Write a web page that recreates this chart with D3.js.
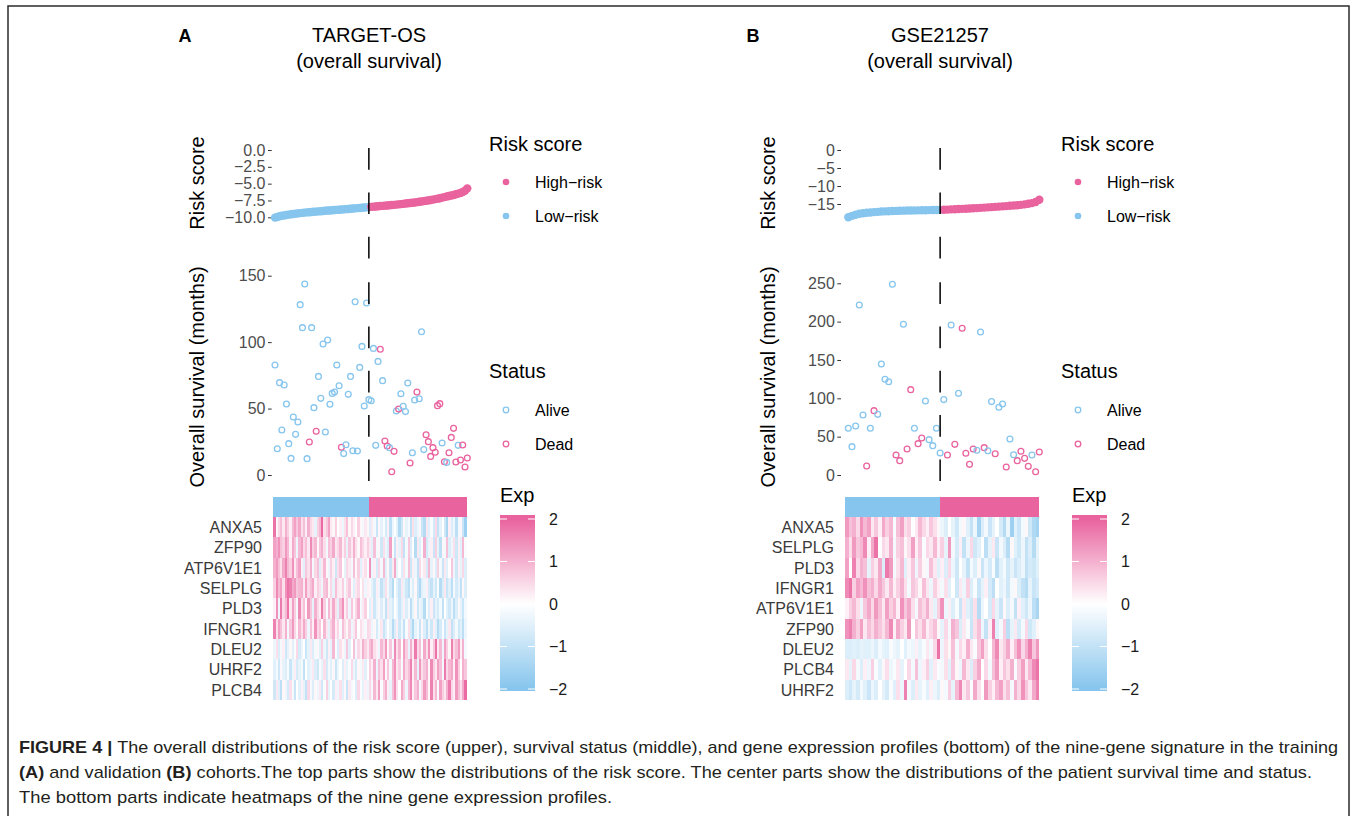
<!DOCTYPE html>
<html><head><meta charset="utf-8">
<script src="https://cdn.jsdelivr.net/npm/d3@7"></script>
<style>
body{margin:0;background:#fff}
svg{display:block}
text{font-family:"Liberation Sans",Arial,Helvetica,sans-serif}
</style>
</head><body>
<svg id="fig" width="1357" height="816"></svg>
<script>
// ---------------- DATA ----------------
const riskA = [-10.05,-9.95,-9.85,-9.78,-9.72,-9.66,-9.6,-9.55,-9.5,-9.46,-9.42,-9.38,-9.34,-9.3,-9.27,-9.24,-9.21,-9.18,-9.15,-9.12,-9.09,-9.06,-9.03,-9.0,-8.98,-8.95,-8.92,-8.9,-8.87,-8.85,-8.82,-8.79,-8.76,-8.73,-8.7,-8.67,-8.64,-8.61,-8.58,-8.55,-8.52,-8.49,
-8.45,-8.42,-8.39,-8.36,-8.33,-8.3,-8.27,-8.24,-8.21,-8.18,-8.15,-8.12,-8.08,-8.04,-8.0,-7.96,-7.92,-7.88,-7.84,-7.8,-7.75,-7.7,-7.65,-7.6,-7.55,-7.49,-7.43,-7.37,-7.3,-7.23,-7.16,-7.08,-7.0,-6.92,-6.84,-6.76,-6.68,-6.58,-6.48,-6.38,-6.25,-6.05,-5.7];
const survA = [82.8,19.8,69.5,33.9,67.7,53.4,23.6,12.5,43.6,30.6,39.9,128.2,110.9,143.7,12.3,24.8,110.9,50.7,32.9,74.2,57.7,98.6,32.4,101.6,53.2,61.4,62.4,82.8,67.2,20.8,16.1,22.8,60.7,74.2,18.3,130.4,18.1,81.0,96.8,51.9,129.4,56.7,55.9,95.3,22.3,85.5,94.6,71.0,25.6,21.8,20.6,2.5,17.8,48.2,49.7,61.2,51.7,47.7,69.2,9.0,16.8,56.4,62.4,57.4,107.8,19.1,30.3,25.1,14.0,20.6,17.1,52.2,53.7,24.1,10.0,9.5,16.8,28.3,35.1,9.8,22.3,11.3,22.6,6.0,12.8];
const statusA = [0,0,0,0,0,0,0,0,0,0, 0,0,0,0,0,1,0,0,1,0, 0,0,0,0,0,0,0,0,0,1, 0,0,0,0,0,0,0,0,0,0, 0,0,0,0,0,0,1,0,1,1, 0,1,1,0,1,0,0,0,0,1, 0,0,1,0,0,0,1,1,1,1, 1,1,1,0,1,0,1,1,1,1, 0,1,1,1,1];
const lowCountA = 42;
const genesA = ["ANXA5","ZFP90","ATP6V1E1","SELPLG","PLD3","IFNGR1","DLEU2","UHRF2","PLCB4"];
const ANXA5_A = [1.8,0.1,0.5,0.8,0.3,1.0,0.6,0.2,0.9,1.2,0.7,1.1,0.4,0.8,0.2,1.0,0.5,0.3,-0.4,0.6,0.9,1.9,0.4,0.7,1.2,0.3,0.1,0.6,0.0,0.2,-0.3,0.4,0.8,0.1,0.5,0.2,0.0,0.6,0.1,-0.2,0.3,0.1,
-0.6,0.3,-0.2,-0.9,0.1,-0.4,-0.1,-0.7,0.2,-1.1,-0.3,0.0,-0.5,-1.3,-0.8,0.1,-0.4,-0.2,-1.0,0.4,-0.6,-0.3,0.1,-0.9,-1.2,0.3,-0.5,-0.1,-0.7,0.5,-1.0,-0.4,0.0,-0.8,-1.4,0.2,-0.6,-0.3,-1.1,-0.2,0.1,-0.9,-1.6];
const ZFP90_A = [1.2,1.0,1.4,0.8,0.6,1.3,0.9,0.2,1.1,0.7,-0.3,0.9,1.2,0.5,0.8,0.3,1.5,0.6,0.9,0.1,0.7,1.0,0.4,-0.2,0.8,0.6,1.1,0.3,0.5,0.9,0.2,0.6,-0.4,0.7,0.3,1.0,0.4,0.1,0.8,0.5,0.2,0.6,
0.3,-0.5,0.8,-0.2,0.1,-0.8,0.4,-0.3,-0.6,1.2,-0.1,-0.9,0.2,-0.4,0.5,-1.0,-0.2,0.7,-0.6,0.0,-1.2,0.3,-0.5,-0.1,1.0,-0.7,-0.3,0.2,-0.9,0.6,-0.4,-1.1,0.1,-0.2,0.8,-0.6,-0.3,0.4,-0.8,0.2,-0.5,0.9,-0.1];
const ATP6V1E1_A = [1.0,1.3,0.8,0.4,1.1,1.6,0.9,0.6,1.4,0.3,0.8,1.2,0.2,-0.5,0.7,0.4,1.0,-0.2,0.5,0.8,-0.6,0.3,0.9,0.1,-0.3,0.6,0.2,-0.8,0.4,0.7,0.0,-0.4,0.5,0.3,-0.2,0.8,0.1,0.6,-0.5,0.2,0.4,-0.1,
1.4,-0.3,0.2,-0.7,0.5,-0.2,0.9,-0.5,0.1,-0.9,0.3,1.1,-0.4,0.0,-0.6,0.4,-0.2,0.8,-0.8,0.2,-0.3,-1.0,0.5,-0.1,0.3,-0.7,0.9,-0.4,0.1,-0.6,0.6,-0.2,-0.9,0.3,-0.5,0.0,0.7,-0.3,-0.8,0.2,-0.4,0.5,-0.6];
const SELPLG_A = [0.6,1.5,0.9,1.2,0.4,1.4,1.8,1.6,1.1,1.3,0.7,0.9,1.0,0.3,1.2,0.5,0.8,1.1,0.2,0.6,0.4,-0.3,0.7,0.9,0.1,0.5,-0.4,0.8,0.3,0.2,0.6,-0.2,0.4,0.7,0.1,-0.5,0.3,0.5,0.0,0.4,-0.3,0.2,
0.1,-0.4,-0.8,0.2,-0.3,-1.0,-0.6,0.4,-0.2,-0.7,-1.2,0.0,-0.5,-0.9,0.3,-0.4,-0.8,-1.1,-0.2,-0.6,0.1,-0.9,-1.3,-0.5,-0.3,0.2,-0.7,-1.0,-0.4,-0.8,-0.1,-1.2,-0.6,0.3,-0.9,-0.5,-1.1,-0.2,-0.7,-0.4,-1.0,0.1,-0.6];
const PLD3_A = [0.2,1.4,-0.3,1.7,0.5,0.9,1.8,0.3,1.2,0.6,-0.2,1.5,0.4,0.8,0.1,1.3,0.7,-0.4,1.0,0.5,0.2,1.6,0.6,-0.1,0.9,0.3,1.1,0.4,-0.5,0.8,1.4,0.2,0.6,-0.3,0.7,0.1,0.5,1.0,-0.2,0.3,0.6,0.0,
-0.5,0.2,-0.8,-0.3,0.1,-0.6,-0.2,-1.0,0.3,-0.4,-0.7,0.0,-0.3,-0.9,-0.5,0.2,-0.6,-0.2,-1.1,-0.4,0.1,-0.8,-0.3,-0.5,-1.2,-0.1,-0.6,0.2,-0.9,-0.4,-0.7,-0.2,-1.0,0.0,-0.5,-0.8,-0.3,-1.1,-0.6,0.1,-0.4,-0.9,-0.2];
const IFNGR1_A = [1.6,0.4,1.2,0.8,0.3,1.0,-0.2,0.7,1.3,0.5,0.1,0.9,0.4,1.1,0.6,-0.3,0.8,0.2,1.4,0.5,0.7,0.0,0.9,0.3,-0.4,0.6,1.0,0.2,0.5,-0.1,0.8,0.4,0.1,0.6,-0.3,0.3,0.7,0.0,0.4,0.2,-0.2,0.5,
0.4,-0.3,0.1,-0.7,-0.2,0.3,-0.9,-0.5,0.0,-0.4,-1.2,-0.6,0.2,-0.8,-0.3,-1.0,-0.1,0.4,-0.7,-1.3,-0.4,-0.2,-0.9,0.1,-0.6,-1.1,-0.3,-0.8,0.2,-0.5,-1.2,-0.7,-0.1,-0.9,-0.4,0.3,-1.0,-0.6,-0.2,-0.8,-0.5,-1.1,-0.3];
const DLEU2_A = [-0.3,0.4,-0.6,-0.2,0.2,-0.8,-0.4,0.1,-0.5,-0.1,0.5,-0.7,-0.3,0.0,-0.9,-0.4,0.3,-0.6,-0.2,0.1,-0.5,0.6,-0.3,-0.8,0.2,-0.4,0.9,-0.1,-0.6,0.4,0.1,-0.3,0.7,-0.5,0.0,0.8,-0.2,0.5,0.2,1.0,0.6,0.3,
0.8,1.1,0.4,0.2,-0.3,0.9,0.5,1.3,0.1,0.7,-0.2,1.5,0.4,0.9,0.0,1.2,0.6,-0.4,1.0,0.3,1.7,0.5,0.8,-0.1,1.1,0.4,1.4,0.2,0.7,1.8,0.3,0.9,-0.3,1.2,0.6,0.1,1.6,0.5,0.8,1.3,0.2,1.0,-0.2];
const UHRF2_A = [-0.5,-0.2,-0.8,0.1,-0.4,-0.6,-0.1,-0.9,-0.3,0.2,-0.7,-0.4,-0.2,-1.0,0.0,-0.5,-0.3,0.3,-0.6,-0.8,-0.1,-0.4,0.4,-0.7,-0.2,-0.5,0.1,-0.9,-0.3,0.0,-0.6,0.2,-0.4,-0.1,0.5,-0.3,-0.7,0.1,-0.2,0.3,-0.5,0.0,
0.6,0.2,1.0,-0.3,0.8,0.4,1.2,0.1,0.7,-0.2,0.9,1.4,0.3,0.6,-0.1,1.1,0.5,0.8,1.6,0.2,0.9,-0.4,1.3,0.4,0.7,1.0,0.1,1.5,0.6,0.3,1.2,0.8,-0.2,1.7,0.5,0.9,1.1,0.2,1.4,0.6,0.0,1.0,0.7];
const PLCB4_A = [-0.8,0.3,-0.5,-1.1,0.1,-0.3,-0.7,0.4,-0.2,-0.9,0.0,-0.5,0.2,-0.4,-1.0,0.5,-0.2,-0.6,0.1,-0.3,0.3,-0.8,-0.1,0.6,-0.4,0.0,-0.7,0.2,-0.3,0.4,-0.5,0.1,-0.9,0.3,-0.2,0.0,-0.6,0.5,-0.1,-0.4,0.2,-0.3,
0.5,-0.2,0.9,0.3,1.2,-0.1,0.6,1.0,0.2,-0.4,0.8,1.4,0.4,0.0,1.1,0.6,-0.3,0.9,1.5,0.2,0.7,1.0,-0.2,0.5,1.3,0.8,0.1,1.6,0.4,0.9,-0.1,1.2,0.6,0.3,1.0,1.7,0.5,0.2,1.3,0.8,0.4,1.1,1.9];

const riskB = [-18.7,-18.3,-18.0,-17.7,-17.55,-17.45,-17.35,-17.25,-17.18,-17.1,-17.05,-17.0,-16.96,-16.92,-16.88,-16.85,-16.82,-16.8,-16.78,-16.76,-16.74,-16.72,-16.7,-16.68,-16.66,-16.64,
-16.6,-16.55,-16.5,-16.45,-16.4,-16.35,-16.3,-16.25,-16.2,-16.14,-16.08,-16.0,-15.93,-15.86,-15.79,-15.72,-15.65,-15.58,-15.5,-15.42,-15.33,-15.23,-15.1,-14.95,-14.75,-14.45,-13.8];
const survB = [60.9,37.0,63.9,221.7,78.3,11.7,60.9,83.9,79.1,144.8,124.8,121.7,248.7,26.1,18.7,196.5,33.9,111.3,60.9,40.9,48.3,96.5,46.1,38.3,60.9,28.7,98.3,26.1,195.7,40.0,106.5,191.3,28.3,13.9,33.9,32.2,186.5,35.7,31.7,95.7,27.8,88.3,92.6,10.4,47.0,26.5,18.7,30.9,21.7,11.3,26.1,4.3,30.0];
const statusB = [0,0,0,0,0,1,0,1,0,0, 0,0,0,1,1,0,1,1,0,1, 1,0,0,0,0,0,0,1,0,1, 0,1,1,1,1,0,0,1,0,0, 1,0,0,1,0,0,1,1,1,1, 0,1,1];
const lowCountB = 26;
const genesB = ["ANXA5","SELPLG","PLD3","IFNGR1","ATP6V1E1","ZFP90","DLEU2","PLCB4","UHRF2"];
const ANXA5_B = [1.3,0.8,1.0,0.5,1.4,0.9,1.2,0.3,0.7,0.2,1.1,0.6,0.9,-0.1,0.8,1.2,0.4,0.6,0.0,0.3,0.9,0.5,0.2,0.7,0.4,0.1,
-0.3,-0.6,0.0,-0.4,-0.8,-0.2,0.1,-0.5,-1.0,-0.3,-1.5,-0.6,-0.2,-0.9,-0.4,0.0,-0.7,-1.2,-0.3,-1.6,-0.5,-0.9,-0.2,0.1,-0.8,-1.3,-1.5];
const SELPLG_B = [1.0,0.4,1.3,0.7,0.9,1.5,0.2,1.1,1.8,0.0,0.5,0.3,1.0,-0.2,0.6,0.8,0.1,0.4,1.2,0.2,0.7,-0.1,0.5,0.3,0.9,0.2,
0.6,-0.4,1.3,-0.2,-0.7,0.2,-1.0,-0.3,0.5,-0.8,-0.5,0.0,-1.1,-0.4,0.3,-0.9,-0.2,-0.6,-1.2,0.1,-0.5,-0.8,-0.3,-1.0,-0.6,-1.2,-0.4];
const PLD3_B = [1.2,0.0,1.6,0.5,1.0,0.8,-0.4,0.6,0.3,1.1,-0.6,1.7,1.3,-0.2,0.4,0.9,-0.5,0.2,0.7,-0.3,0.6,0.1,-0.2,0.8,0.3,-0.5,
0.2,-0.6,0.5,-0.3,-0.8,0.0,-0.4,-1.0,-0.2,-0.6,0.1,-0.9,-0.3,-0.7,-0.1,-1.1,-0.5,-0.2,-0.8,-0.4,-0.9,-0.6,-0.3,-1.0,-0.7,-0.8,-0.5];
const IFNGR1_B = [1.5,1.8,0.6,1.2,0.9,1.4,0.8,1.0,0.5,1.1,0.7,0.3,0.9,0.2,0.6,1.0,0.4,-0.2,0.7,0.5,0.1,0.8,0.3,-0.3,0.6,0.2,
-0.2,0.4,-0.5,0.0,-0.8,0.3,-0.3,0.6,-0.6,-0.1,-0.9,-0.4,0.2,-0.7,-1.1,0.0,-0.5,-0.3,-0.8,-0.2,0.1,-0.6,-1.0,-1.2,-0.4,-0.9,-0.7];
const ATP6V1E1_B = [0.2,0.6,0.9,0.4,-0.3,0.7,1.1,0.5,1.3,0.8,0.3,1.2,0.6,0.9,0.2,1.4,0.7,1.1,0.4,-0.2,0.8,0.5,1.0,0.3,-0.4,0.6,
1.4,-0.3,0.2,-0.6,-0.1,-0.9,0.3,-0.5,-0.8,0.4,-1.2,-0.3,0.0,-0.7,0.5,-0.4,-0.9,0.1,-0.6,-0.2,-1.0,0.2,-0.5,-0.8,-0.3,-1.1,-1.4];
const ZFP90_B = [1.4,1.6,1.0,0.6,1.2,0.3,0.8,0.5,1.0,0.7,0.4,0.9,1.5,0.2,1.1,0.6,0.3,1.3,0.0,0.7,0.4,0.9,0.2,0.5,0.8,0.1,
-0.4,0.5,-0.2,1.0,0.7,-0.6,0.3,-0.1,-0.9,0.4,0.8,-0.3,-1.0,0.2,1.6,-0.5,-0.2,0.6,-1.1,-0.4,0.3,-0.7,-0.2,0.5,-0.8,-0.5,0.1];
const DLEU2_B = [-0.6,-0.6,-0.5,-0.6,-0.4,-0.5,-0.5,-0.3,-0.6,-0.2,-0.4,-0.5,-0.1,-0.3,-0.4,0.0,-0.5,-0.2,-0.3,0.2,-0.4,-0.1,0.3,-0.2,0.5,1.8,
-0.3,0.4,0.1,0.8,-0.2,0.5,0.2,1.0,0.3,-0.1,0.7,1.2,0.4,0.0,0.9,1.5,0.3,0.6,1.1,0.2,0.8,1.4,0.5,1.0,1.6,0.7,1.3];
const PLCB4_B = [0.3,-0.4,0.5,-0.2,-0.6,0.2,-0.3,0.6,-0.1,-0.5,0.1,0.4,-0.3,-0.1,0.3,-0.4,0.0,0.5,-0.2,0.8,-0.3,0.2,0.6,-0.5,0.3,-0.1,
-0.2,0.4,-0.5,0.7,0.1,-0.3,0.9,0.3,-0.6,0.6,1.1,0.0,0.5,-0.2,0.8,1.3,0.2,0.7,0.4,1.0,-0.1,0.6,1.2,0.3,0.9,1.5,1.8];
const UHRF2_B = [-0.6,-0.8,-0.4,-0.7,-0.2,-0.5,-0.9,-0.3,-0.6,0.0,-0.4,-0.7,-0.1,-0.5,0.4,-0.3,1.6,-0.2,-0.6,0.3,-0.4,-0.1,-0.5,0.2,-0.3,-0.6,
0.1,-0.2,0.6,-0.4,0.9,1.5,0.3,0.7,-0.1,1.1,0.4,0.0,1.3,0.6,0.2,0.9,1.2,0.4,0.8,-0.2,1.0,0.5,1.4,0.7,0.3,1.1,1.6];

const riskTicksA = [0, -2.5, -5, -7.5, -10];
const survTicksA = [0, 50, 100, 150];
const riskTicksB = [0, -5, -10, -15];
const survTicksB = [0, 50, 100, 150, 200, 250];
const expTicks = [2, 1, 0, -1, -2];
const riskLevels = ["High\u2212risk", "Low\u2212risk"];
const statusLevels = ["Alive", "Dead"];

// ---------------- STYLE ----------------
const BLUE = "#86C5ED", PINK = "#E9639E";
const svg = d3.select("#fig");
const minus = s => s.replace(/-/g, "\u2212");

svg.append("rect").attr("x", 8).attr("y", 6).attr("width", 1341).attr("height", 816)
  .attr("fill", "none").attr("stroke", "#2b2b2b").attr("stroke-width", 1.5);

const defs = svg.append("defs");
const grad = defs.append("linearGradient").attr("id", "expgrad")
  .attr("x1", 0).attr("y1", 0).attr("x2", 0).attr("y2", 1);
const expColor = d3.scaleLinear().domain([-2, 0, 2]).range([BLUE, "#FFFFFF", PINK]).clamp(true);

function drawPanel(c) {
  const g = svg.append("g");
  const n = c.risk.length;
  // header
  g.append("text").attr("x", c.labelX).attr("y", 42).attr("font-size", 18).attr("font-weight", "bold")
    .attr("text-anchor", "middle").text(c.label);
  g.append("text").attr("x", c.titleX).attr("y", 42).attr("font-size", 20).attr("text-anchor", "middle").text(c.title);
  g.append("text").attr("x", c.titleX).attr("y", 68).attr("font-size", 20).attr("text-anchor", "middle").text("(overall survival)");

  const x = d3.scaleLinear().domain([1, n]).range(c.xRange);
  const yR = d3.scaleLinear().domain(c.riskDom).range(c.riskRange);
  const yS = d3.scaleLinear().domain(c.survDom).range(c.survRange);

  // y axes
  function yAxis(scale, ticks, fmt) {
    const ax = g.append("g").attr("transform", `translate(${c.axisX},0)`)
      .call(d3.axisLeft(scale).tickValues(ticks).tickSize(3.7).tickPadding(2.5).tickFormat(d => minus(fmt(d))));
    ax.select(".domain").remove();
    ax.selectAll(".tick line").attr("stroke", "#333").attr("stroke-width", 1);
    ax.selectAll(".tick text").attr("fill", "#4D4D4D").attr("font-size", 16)
      .attr("font-family", '"Liberation Sans",Arial,sans-serif');
  }
  yAxis(yR, c.riskTicks, c.riskFmt);
  yAxis(yS, c.survTicks, d3.format("d"));

  g.append("text").attr("transform", `translate(${c.titleAxX},183) rotate(-90)`)
    .attr("font-size", 20).attr("text-anchor", "middle").attr("dy", "0.35em").text("Risk score");
  g.append("text").attr("transform", `translate(${c.titleAxX},377) rotate(-90)`)
    .attr("font-size", 20).attr("text-anchor", "middle").attr("dy", "0.35em").text("Overall survival (months)");

  // risk points
  g.append("g").selectAll("circle").data(c.risk).join("circle")
    .attr("cx", (d, i) => x(i + 1)).attr("cy", d => yR(d)).attr("r", 4.2)
    .attr("fill", (d, i) => i < c.nLow ? BLUE : PINK);

  // survival points
  g.append("g").selectAll("circle").data(c.surv).join("circle")
    .attr("cx", (d, i) => x(i + 1)).attr("cy", d => yS(d)).attr("r", 2.9)
    .attr("fill", "none").attr("stroke-width", 1.3)
    .attr("stroke", (d, i) => c.status[i] ? PINK : BLUE);

  // dashed cut lines
  const xc = x(c.nLow);
  [[c.riskLine[0], c.riskLine[1]], [c.survLine[0], c.survLine[1]]].forEach(([yb, yt]) => {
    g.append("line").attr("x1", xc).attr("x2", xc).attr("y1", yb).attr("y2", yt)
      .attr("stroke", "#000").attr("stroke-width", 1.5).attr("stroke-dasharray", "21.7 22.6");
  });

  // heatmap
  const hx = d3.scaleBand().domain(d3.range(n)).range(c.heatX);
  const rows = c.genes;
  const hy = d3.scaleBand().domain(rows).range([517, 700]);
  const hg = g.append("g").attr("shape-rendering", "crispEdges");
  hg.append("g").selectAll("rect").data(d3.range(n)).join("rect")
    .attr("x", i => hx(i)).attr("y", 497).attr("width", hx.bandwidth()).attr("height", 20)
    .attr("fill", i => i < c.nLow ? BLUE : PINK);
  rows.forEach((gene, r) => {
    hg.append("g").selectAll("rect").data(c.expr[r]).join("rect")
      .attr("x", (d, i) => hx(i)).attr("y", hy(gene)).attr("width", hx.bandwidth()).attr("height", hy.bandwidth())
      .attr("fill", d => expColor(d));
    g.append("text").attr("x", c.geneX).attr("y", hy(gene) + hy.bandwidth() / 2).attr("dy", "0.36em")
      .attr("text-anchor", "end").attr("font-size", 16).attr("fill", "#3a3a3a").text(gene);
  });

  // legends
  const L = c.legX;
  g.append("text").attr("x", L).attr("y", 151).attr("font-size", 20).text("Risk score");
  riskLevels.forEach((t, k) => {
    const yy = 182 + k * 34;
    g.append("circle").attr("cx", L + 17).attr("cy", yy).attr("r", 3.3).attr("fill", k === 0 ? PINK : BLUE);
    g.append("text").attr("x", L + 46).attr("y", yy).attr("dy", "0.36em").attr("font-size", 16).text(t);
  });
  g.append("text").attr("x", L).attr("y", 378).attr("font-size", 20).text("Status");
  statusLevels.forEach((t, k) => {
    const yy = 410 + k * 34;
    g.append("circle").attr("cx", L + 17).attr("cy", yy).attr("r", 2.8).attr("fill", "none")
      .attr("stroke-width", 1.3).attr("stroke", k === 0 ? BLUE : PINK);
    g.append("text").attr("x", L + 46).attr("y", yy).attr("dy", "0.36em").attr("font-size", 16).text(t);
  });
  const cb = c.cbX;
  g.append("text").attr("x", cb).attr("y", 502).attr("font-size", 20).text("Exp");
  const yE = d3.scaleLinear().domain([2, -2]).range([519, 689]);
  g.append("rect").attr("x", cb).attr("y", 515).attr("width", 35).attr("height", 176).attr("fill", "url(#expgrad)");
  expTicks.forEach(v => {
    [[cb, cb + 7], [cb + 28, cb + 35]].forEach(([a, b]) =>
      g.append("line").attr("x1", a).attr("x2", b).attr("y1", yE(v)).attr("y2", yE(v)).attr("stroke", "#fff").attr("stroke-width", 1));
    g.append("text").attr("x", cb + 49).attr("y", yE(v)).attr("dy", "0.36em").attr("font-size", 16)
      .attr("fill", "#1a1a1a").text(minus(String(v)));
  });
}

// gradient stops (colour bar spans 515..691, ticks ±2 at 519/689)
[2, 1, 0, -1, -2].forEach(v => {
  grad.append("stop").attr("offset", ((d3.scaleLinear().domain([2, -2]).range([519, 689])(v) - 515) / 176))
    .attr("stop-color", expColor(v));
});

drawPanel({
  label: "A", labelX: 185, title: "TARGET-OS", titleX: 369,
  risk: riskA, surv: survA, status: statusA, nLow: lowCountA,
  genes: genesA, expr: [ANXA5_A, ZFP90_A, ATP6V1E1_A, SELPLG_A, PLD3_A, IFNGR1_A, DLEU2_A, UHRF2_A, PLCB4_A],
  xRange: [275, 467.3], axisX: 271.7,
  riskDom: [0, -10], riskRange: [150, 217.3], riskTicks: riskTicksA, riskFmt: d3.format(".1f"),
  survDom: [0, 150], survRange: [475, 275.7], survTicks: survTicksA,
  riskLine: [258.4, 148], survLine: [481.1, 274.6],
  heatX: [273.3, 466.7], geneX: 262, titleAxX: 197, legX: 489, cbX: 500
});
drawPanel({
  label: "B", labelX: 753, title: "GSE21257", titleX: 940,
  risk: riskB, surv: survB, status: statusB, nLow: lowCountB,
  genes: genesB, expr: [ANXA5_B, SELPLG_B, PLD3_B, IFNGR1_B, ATP6V1E1_B, ZFP90_B, DLEU2_B, PLCB4_B, UHRF2_B],
  xRange: [848.3, 1039.3], axisX: 841,
  riskDom: [0, -15], riskRange: [150, 204], riskTicks: riskTicksB, riskFmt: d3.format("d"),
  survDom: [0, 250], survRange: [475, 283.3], survTicks: survTicksB,
  riskLine: [258.4, 148], survLine: [481.1, 277],
  heatX: [845, 1039.3], geneX: 834, titleAxX: 768, legX: 1061, cbX: 1072
});

// caption
const cap = svg.append("g").attr("font-size", 17).attr("fill", "#231f20");
const l1 = cap.append("text").attr("x", 19).attr("y", 753).attr("textLength", 1319).attr("lengthAdjust", "spacingAndGlyphs");
l1.append("tspan").attr("font-weight", "bold").text("FIGURE 4 | ");
l1.append("tspan").text("The overall distributions of the risk score (upper), survival status (middle), and gene expression profiles (bottom) of the nine-gene signature in the training");
const l2 = cap.append("text").attr("x", 19).attr("y", 778).attr("textLength", 1293).attr("lengthAdjust", "spacingAndGlyphs");
l2.append("tspan").attr("font-weight", "bold").text("(A)");
l2.append("tspan").text(" and validation ");
l2.append("tspan").attr("font-weight", "bold").text("(B)");
l2.append("tspan").text(" cohorts.The top parts show the distributions of the risk score. The center parts show the distributions of the patient survival time and status.");
cap.append("text").attr("x", 19).attr("y", 803).attr("textLength", 593).attr("lengthAdjust", "spacingAndGlyphs")
  .text("The bottom parts indicate heatmaps of the nine gene expression profiles.");
</script>
</body></html>
